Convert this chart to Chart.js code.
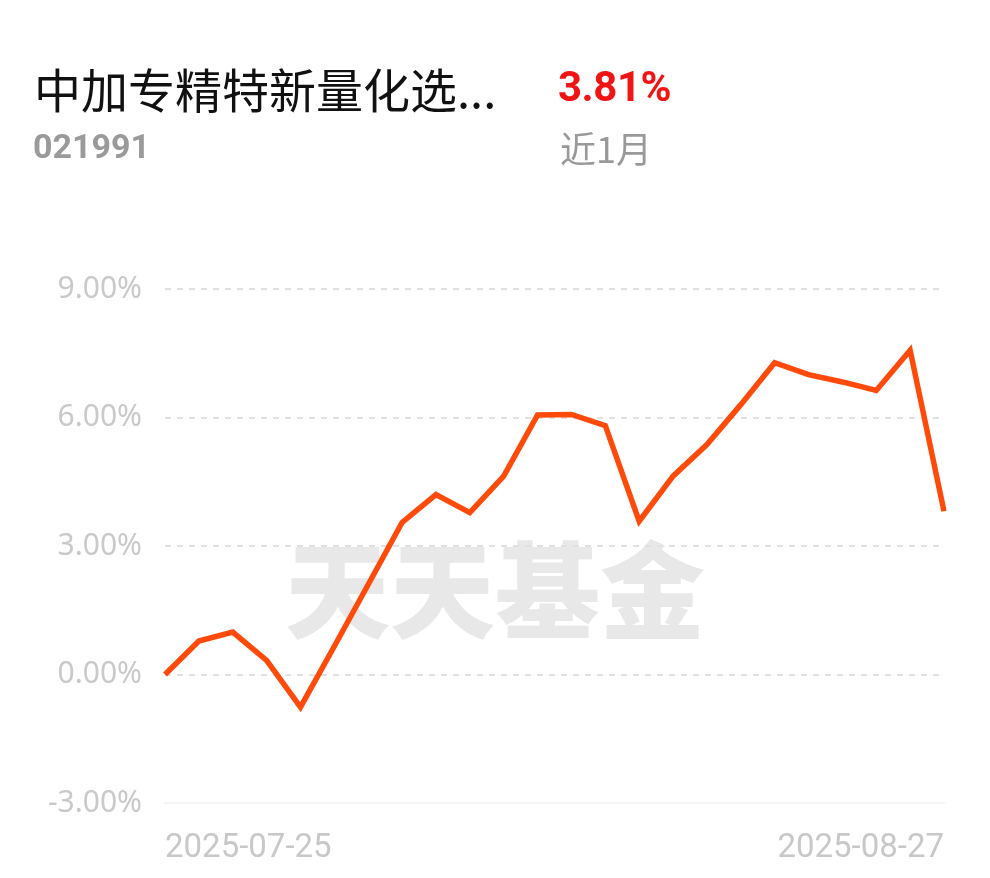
<!DOCTYPE html>
<html>
<head>
<meta charset="utf-8">
<script src="https://cdn.jsdelivr.net/npm/chart.js@4/dist/chart.umd.min.js"></script>
<style>
  body { margin: 0; background: #fff; }
  #wrap { position: relative; width: 990px; height: 878px; overflow: hidden; }
  #myChart { position: absolute; left: 0; top: 0; }
  .hd { position: absolute; white-space: nowrap; z-index: 2; }
  #name { left: 34px; top: 64px; font: 47px/47px "Noto Sans CJK SC"; color: #111; }
  #code { left: 33px; top: 129px; font: bold 34px/34px Roboto; color: #9a9a9a; }
  #ret { left: 558px; top: 66px; font: bold 42px/42px Roboto; color: #f01414; letter-spacing: -0.5px; }
  #period { left: 560px; top: 129px; font: 36px/36px "Noto Sans CJK SC"; color: #999; }
</style>
</head>
<body>
<div id="wrap">
  <div class="hd" id="name">中加专精特新量化选...</div>
  <div class="hd" id="code">021991</div>
  <div class="hd" id="ret">3.81%</div>
  <div class="hd" id="period">近1月</div>
  <canvas id="myChart" width="990" height="878"></canvas>
</div>
<script>
// trading days shown (only first and last get a label)
const dates = ['2025-07-25','2025-07-28','2025-07-29','2025-07-30','2025-07-31','2025-08-01',
  '2025-08-04','2025-08-05','2025-08-06','2025-08-07','2025-08-08',
  '2025-08-11','2025-08-12','2025-08-13','2025-08-14','2025-08-15',
  '2025-08-18','2025-08-19','2025-08-20','2025-08-21','2025-08-22',
  '2025-08-25','2025-08-26','2025-08-27'];
const returns = [0.00, 0.78, 0.99, 0.33, -0.76, 0.66, 2.10, 3.55, 4.20, 3.78, 4.63, 6.06,
  6.07, 5.81, 3.58, 4.63, 5.37, 6.30, 7.28, 7.00, 6.83, 6.63, 7.57, 3.81];
const yTicks = [-3, 0, 3, 6, 9];

const watermark = {
  id: 'watermark',
  beforeDraw(chart) {
    const c = chart.ctx;
    c.save();
    c.font = '900 105px "Noto Sans CJK SC"';
    c.fillStyle = '#e8e8e8';
    c.textAlign = 'center';
    c.textBaseline = 'middle';
    c.fillText('天天基金', 495, 590);
    c.restore();
  }
};

const ctx = document.getElementById('myChart');

new Chart(ctx, {
  type: 'line',
  data: {
    labels: dates,
    datasets: [{
      data: returns,
      borderColor: '#ff4a0a',
      borderWidth: 5.5,
      pointRadius: 0,
      tension: 0,
      fill: false
    }]
  },
  options: {
    responsive: false,
    animation: false,
    layout: { padding: { top: 289, right: 46, left: 0, bottom: 0 } },
    plugins: { legend: { display: false }, tooltip: { enabled: false } },
    scales: {
      x: {
        grid: { display: false },
        border: { display: true, color: '#f4f4f4', width: 2 },
        afterFit: s => { s.height = 75; },
        ticks: {
          autoSkip: false,
          maxRotation: 0,
          align: 'inner',
          padding: 18,
          color: '#c8c8c8',
          font: { family: 'Roboto', size: 33 },
          callback: (v, i) => (i === 0 || i === dates.length - 1) ? dates[i] : ''
        }
      },
      y: {
        min: yTicks[0],
        max: yTicks[yTicks.length - 1],
        afterFit: s => { s.width = 165; },
        afterBuildTicks: s => { s.ticks = yTicks.map(v => ({ value: v })); },
        grid: { color: '#e0e0e0', lineWidth: 2, drawTicks: false },
        border: { display: false, dash: [6, 6] },
        ticks: {
          padding: 23,
          color: '#c9c9c9',
          font: { family: 'Noto Sans', size: 30 },
          callback: v => v.toFixed(2) + '%'
        }
      }
    }
  },
  plugins: [watermark]
});
</script>
</body>
</html>
